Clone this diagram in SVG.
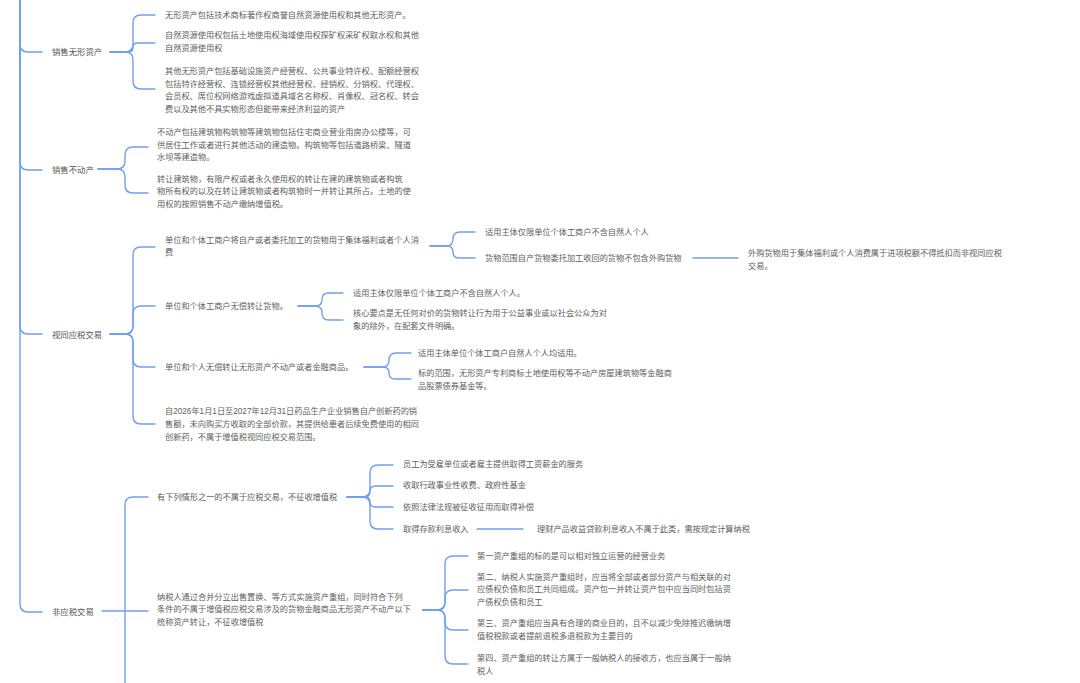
<svg xmlns="http://www.w3.org/2000/svg" width="1080" height="683" viewBox="0 0 1080 683">
<style>
.ln{fill:none;stroke:#729ff2;stroke-width:1.4;stroke-linecap:round}
.t{font-family:"Liberation Sans","Noto Sans CJK SC",sans-serif;font-size:8.2px;fill:#5e5e5e;dominant-baseline:central}
.l1{font-family:"Liberation Sans","Noto Sans CJK SC",sans-serif;font-size:8.4px;fill:#555;dominant-baseline:central}
</style>
<rect width="1080" height="683" fill="#ffffff"/>
<g id="connectors">
<path class="ln" d="M20,-5 V44 Q20,52 28,52 H42"/>
<path class="ln" d="M20,-5 V162 Q20,170 28,170 H42"/>
<path class="ln" d="M20,-5 V326 Q20,334 28,334 H42"/>
<path class="ln" d="M20,-5 V604 Q20,612 28,612 H42"/>

<path class="ln" d="M110,52 H125 Q133,52 133,44 V23 Q133,15 141,15 H155"/>
<path class="ln" d="M110,52 H128.5 Q133,52 133,47.5 Q133,43 137.5,43 H155"/>
<path class="ln" d="M110,52 H125 Q133,52 133,60 V81 Q133,89 141,89 H155"/>

<path class="ln" d="M98,169 H117 Q125,169 125,161 V155 Q125,147 133,147 H148"/>
<path class="ln" d="M98,169 H117 Q125,169 125,177 V185 Q125,193 133,193 H148"/>

<path class="ln" d="M110,334 H125 Q133,334 133,326 V255 Q133,247 141,247 H155"/>
<path class="ln" d="M110,334 H125 Q133,334 133,326 V314 Q133,306 141,306 H155"/>
<path class="ln" d="M110,334 H125 Q133,334 133,342 V359 Q133,367 141,367 H155"/>
<path class="ln" d="M110,334 H125 Q133,334 133,342 V416 Q133,424 141,424 H155"/>

<path class="ln" d="M430,246 H446 Q453,246 453,239 Q453,232 460,232 H475"/>
<path class="ln" d="M430,246 H447 Q453,246 453,252 Q453,258 459,258 H475"/>
<path class="ln" d="M693,258 H738"/>

<path class="ln" d="M298,306 H315.5 Q322,306 322,299.5 Q322,293 328.5,293 H343"/>
<path class="ln" d="M298,306 H315 Q322,306 322,313 Q322,320 329,320 H343"/>

<path class="ln" d="M364,367 H382 Q389,367 389,360 Q389,353 396,353 H411"/>
<path class="ln" d="M364,367 H383 Q389,367 389,373 Q389,379 395,379 H411"/>

<path class="ln" d="M148,497 H133 Q125,497 125,505 V690"/>
<path class="ln" d="M102,611 H148"/>

<path class="ln" d="M347,497 H362 Q370,497 370,489 V473 Q370,465 378,465 H393"/>
<path class="ln" d="M347,497 H364.5 Q370,497 370,491.5 Q370,486 375.5,486 H393"/>
<path class="ln" d="M347,497 H365 Q370,497 370,502 Q370,507 375,507 H393"/>
<path class="ln" d="M347,497 H362 Q370,497 370,505 V521 Q370,529 378,529 H393"/>
<path class="ln" d="M477,529 H523"/>

<path class="ln" d="M423,610 H437 Q445,610 445,602 V564 Q445,556 453,556 H468"/>
<path class="ln" d="M423,610 H437 Q445,610 445,602 V598 Q445,590 453,590 H468"/>
<path class="ln" d="M423,610 H437 Q445,610 445,618 V622 Q445,630 453,630 H468"/>
<path class="ln" d="M423,610 H437 Q445,610 445,618 V656 Q445,664 453,664 H468"/>
</g>

<g id="n-sale-intangible"><text class="l1" x="52" y="52">销售无形资产</text></g>
<g id="n-intangible-1"><text class="t" x="165" y="15">无形资产包括技术商标著作权商誉自然资源使用权和其他无形资产。</text></g>
<g id="n-intangible-2"><text class="t" x="165" y="35">自然资源使用权包括土地使用权海域使用权探矿权采矿权取水权和其他</text><text class="t" x="165" y="48">自然资源使用权</text></g>
<g id="n-intangible-3"><text class="t" x="165" y="71">其他无形资产包括基础设施资产经营权、公共事业特许权、配额经营权</text><text class="t" x="165" y="84">包括特许经营权、连锁经营权其他经营权、经销权、分销权、代理权、</text><text class="t" x="165" y="96.5">会员权、席位权网络游戏虚拟道具域名名称权、肖像权、冠名权、转会</text><text class="t" x="165" y="109">费以及其他不具实物形态但能带来经济利益的资产</text></g>

<g id="n-sale-realestate"><text class="l1" x="52" y="170">销售不动产</text></g>
<g id="n-realestate-1"><text class="t" x="157" y="132.5">不动产包括建筑物构筑物等建筑物包括住宅商业营业用房办公楼等，可</text><text class="t" x="157" y="145">供居住工作或者进行其他活动的建造物。构筑物等包括道路桥梁、隧道</text><text class="t" x="157" y="157.5">水坝等建造物。</text></g>
<g id="n-realestate-2"><text class="t" x="157" y="179">转让建筑物，有限产权或者永久使用权的转让在建的建筑物或者构筑</text><text class="t" x="157" y="191.5">物所有权的以及在转让建筑物或者构筑物时一并转让其所占。土地的使</text><text class="t" x="157" y="204">用权的按照销售不动产缴纳增值税。</text></g>

<g id="n-deemed"><text class="l1" x="52" y="335">视同应税交易</text></g>
<g id="n-deemed-a"><text class="t" x="165" y="240">单位和个体工商户将自产或者委托加工的货物用于集体福利或者个人消</text><text class="t" x="165" y="252.5">费</text></g>
<g id="n-deemed-a1"><text class="t" x="485" y="232">适用主体仅限单位个体工商户不含自然人个人</text></g>
<g id="n-deemed-a2"><text class="t" x="485" y="258">货物范围自产货物委托加工收回的货物不包含外购货物</text></g>
<g id="n-deemed-a2a"><text class="t" x="748" y="253">外购货物用于集体福利或个人消费属于进项税额不得抵扣而非视同应税</text><text class="t" x="748" y="266">交易。</text></g>
<g id="n-deemed-b"><text class="t" x="165" y="306">单位和个体工商户无偿转让货物。</text></g>
<g id="n-deemed-b1"><text class="t" x="353" y="293">适用主体仅限单位个体工商户不含自然人个人。</text></g>
<g id="n-deemed-b2"><text class="t" x="353" y="313.5">核心要点是无任何对价的货物转让行为用于公益事业或以社会公众为对</text><text class="t" x="353" y="326">象的除外，在配套文件明确。</text></g>
<g id="n-deemed-c"><text class="t" x="165" y="367">单位和个人无偿转让无形资产不动产或者金融商品。</text></g>
<g id="n-deemed-c1"><text class="t" x="418" y="353">适用主体单位个体工商户自然人个人均适用。</text></g>
<g id="n-deemed-c2"><text class="t" x="418" y="373.5">标的范围，无形资产专利商标土地使用权等不动产房屋建筑物等金融商</text><text class="t" x="418" y="386">品股票债券基金等。</text></g>
<g id="n-deemed-d"><text class="t" x="165" y="411">自2026年1月1日至2027年12月31日药品生产企业销售自产创新药的销</text><text class="t" x="165" y="424">售额，未向购买方收取的全部价款，其提供给患者后续免费使用的相同</text><text class="t" x="165" y="437">创新药，不属于增值税视同应税交易范围。</text></g>

<g id="n-nontax"><text class="l1" x="52" y="612">非应税交易</text></g>
<g id="n-nontax-e"><text class="t" x="157" y="497">有下列情形之一的不属于应税交易，不征收增值税</text></g>
<g id="n-nontax-e1"><text class="t" x="403" y="464.5">员工为受雇单位或者雇主提供取得工资薪金的服务</text></g>
<g id="n-nontax-e2"><text class="t" x="403" y="485.5">收取行政事业性收费、政府性基金</text></g>
<g id="n-nontax-e3"><text class="t" x="403" y="507">依照法律法规被征收征用而取得补偿</text></g>
<g id="n-nontax-e4"><text class="t" x="403" y="529">取得存款利息收入</text></g>
<g id="n-nontax-e4a"><text class="t" x="537" y="529">理财产品收益贷款利息收入不属于此类，需按规定计算纳税</text></g>
<g id="n-nontax-f"><text class="t" x="157" y="597">纳税人通过合并分立出售置换、等方式实施资产重组，同时符合下列</text><text class="t" x="157" y="609.5">条件的不属于增值税应税交易涉及的货物金融商品无形资产不动产以下</text><text class="t" x="157" y="622">统称资产转让，不征收增值税</text></g>
<g id="n-nontax-f1"><text class="t" x="477" y="556">第一资产重组的标的是可以相对独立运营的经营业务</text></g>
<g id="n-nontax-f2"><text class="t" x="477" y="577">第二、纳税人实施资产重组时，应当将全部或者部分资产与相关联的对</text><text class="t" x="477" y="589.5">应债权负债和员工共同组成。资产包一并转让资产包中应当同时包括资</text><text class="t" x="477" y="602">产债权负债和员工</text></g>
<g id="n-nontax-f3"><text class="t" x="477" y="623">第三、资产重组应当具有合理的商业目的，且不以减少免除推迟缴纳增</text><text class="t" x="477" y="636">值税税款或者提前退税多退税款为主要目的</text></g>
<g id="n-nontax-f4"><text class="t" x="477" y="658">第四、资产重组的转让方属于一般纳税人的接收方，也应当属于一般纳</text><text class="t" x="477" y="671">税人</text></g>
</svg>
